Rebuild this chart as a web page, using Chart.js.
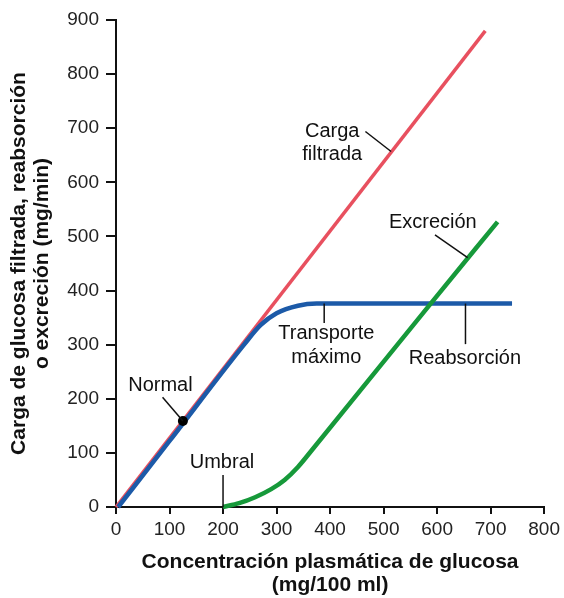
<!DOCTYPE html>
<html>
<head>
<meta charset="utf-8">
<script src="https://cdn.jsdelivr.net/npm/chart.js@4"></script>
<style>
  html, body { margin: 0; padding: 0; background: #fff; }
  #wrap { width: 564px; height: 598px; }
</style>
</head>
<body>
<div id="wrap"><canvas id="glucosaChart"></canvas></div>
<script>
// Carga filtrada (roja)
const filtX = [0, 690];
const filtY = [0, 880];
// Reabsorción (azul)
const reabX = [4, 100, 240, 270, 300, 340, 375, 740];
const reabY = [0, 122, 301, 336, 358, 372, 376, 376];
// Excreción (verde)
const excrX = [200, 230, 260, 290, 315, 340, 370, 588, 713];
const excrY = [0, 7, 18, 33, 50, 74, 110, 376, 527];
// Punto normal
const normalPt = [125, 159];

const xTicks = [0, 100, 200, 300, 400, 500, 600, 700, 800];
const yTicks = [0, 100, 200, 300, 400, 500, 600, 700, 800, 900];

// Etiquetas: texto, posición (datos), línea guía (datos)
const labels = [
    { lines: ['Carga', 'filtrada'], x: 404, y: [694, 651], lead: [[466, 694], [514, 657]] },
    { lines: ['Excreción'], x: 592, y: [525], lead: [[596, 503], [657, 461]] },
    { lines: ['Transporte', 'máximo'], x: 393, y: [321, 277], lead: [[389, 376], [389, 340]] },
    { lines: ['Reabsorción'], x: 652, y: [275], lead: [[653, 376], [653, 301]] },
    { lines: ['Normal'], x: 83, y: [225], lead: [[87, 203], [125, 159]] },
    { lines: ['Umbral'], x: 198, y: [83], lead: [[200, 59], [200, 0]] }
];

const toPts = (xs, ys) => xs.map((x, i) => ({ x: x, y: ys[i] }));

const annotate = {
    id: 'annotate',
    afterDatasetsDraw(chart) {
        const ctx = chart.ctx, sx = chart.scales.x, sy = chart.scales.y;
        ctx.save();
        ctx.strokeStyle = '#111';
        ctx.lineWidth = 1.5;
        ctx.fillStyle = '#111';
        ctx.font = '20px "Liberation Sans", Arial, sans-serif';
        ctx.textAlign = 'center';
        ctx.textBaseline = 'middle';
        labels.forEach(l => {
            ctx.beginPath();
            ctx.moveTo(sx.getPixelForValue(l.lead[0][0]), sy.getPixelForValue(l.lead[0][1]));
            ctx.lineTo(sx.getPixelForValue(l.lead[1][0]), sy.getPixelForValue(l.lead[1][1]));
            ctx.stroke();
            l.lines.forEach((t, i) => {
                ctx.fillText(t, sx.getPixelForValue(l.x), sy.getPixelForValue(l.y[i]));
            });
        });
        ctx.restore();
    }
};

const axisFont = { family: '"Liberation Sans", Arial, sans-serif', size: 19 };
const titleFont = { family: '"Liberation Sans", Arial, sans-serif', size: 21, weight: 'bold', lineHeight: 1.1 };

new Chart(document.getElementById('glucosaChart'), {
    type: 'scatter',
    data: {
        datasets: [{
            label: 'Carga filtrada',
            data: toPts(filtX, filtY),
            showLine: true,
            borderColor: '#e8505f',
            borderWidth: 3.5,
            pointRadius: 0,
            order: 3
        }, {
            label: 'Reabsorción',
            data: toPts(reabX, reabY),
            showLine: true,
            cubicInterpolationMode: 'monotone',
            borderColor: '#1c5aa8',
            borderWidth: 4.5,
            pointRadius: 0,
            order: 2
        }, {
            label: 'Excreción',
            data: toPts(excrX, excrY),
            showLine: true,
            cubicInterpolationMode: 'monotone',
            borderColor: '#16993a',
            borderWidth: 4.5,
            pointRadius: 0,
            order: 1
        }, {
            label: 'Normal',
            data: [{ x: normalPt[0], y: normalPt[1] }],
            backgroundColor: '#000',
            borderColor: '#000',
            borderWidth: 0,
            pointRadius: 5,
            order: 0
        }]
    },
    options: {
        responsive: true,
        maintainAspectRatio: false,
        animation: false,
        clip: false,
        layout: { padding: { top: 20, right: 17, left: 0, bottom: 0 } },
        plugins: {
            legend: { display: false },
            tooltip: { enabled: false }
        },
        scales: {
            x: {
                type: 'linear',
                min: 0,
                max: 800,
                afterBuildTicks: s => { s.ticks = xTicks.map(v => ({ value: v })); },
                afterFit: s => { s.height = 91; },
                border: { color: '#111', width: 2 },
                grid: { drawOnChartArea: false, color: '#111', lineWidth: 2, tickLength: 7 },
                ticks: { color: '#222', font: axisFont, padding: 4, maxRotation: 0 },
                title: {
                    display: true,
                    text: ['Concentración plasmática de glucosa', '(mg/100 ml)'],
                    color: '#111',
                    font: titleFont,
                    padding: { top: 4, bottom: 1 }
                }
            },
            y: {
                type: 'linear',
                min: 0,
                max: 900,
                afterBuildTicks: s => { s.ticks = yTicks.map(v => ({ value: v })); },
                afterFit: s => { s.width = 116; },
                border: { color: '#111', width: 2 },
                grid: { drawOnChartArea: false, color: '#111', lineWidth: 2, tickLength: 10 },
                ticks: { color: '#222', font: axisFont, padding: 7 },
                title: {
                    display: true,
                    text: ['Carga de glucosa filtrada, reabsorción', 'o excreción (mg/min)'],
                    color: '#111',
                    font: titleFont,
                    padding: { top: 8, bottom: 0 }
                }
            }
        }
    },
    plugins: [annotate]
});
</script>
</body>
</html>
